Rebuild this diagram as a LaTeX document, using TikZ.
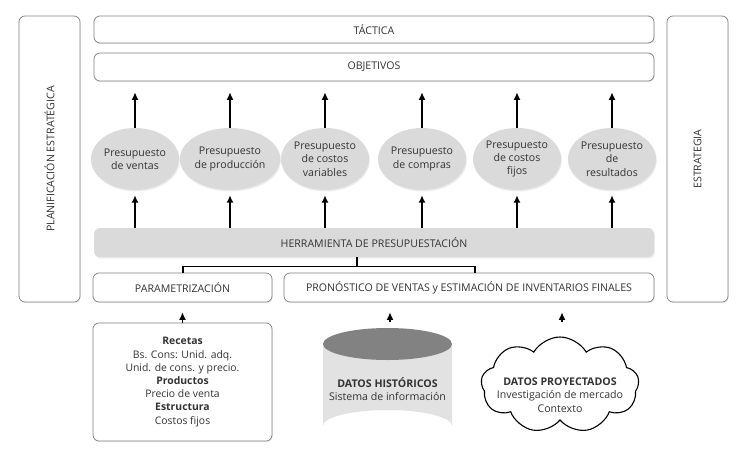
\documentclass[tikz,border=0pt]{standalone}
\usepackage{fontspec}
\setmainfont{Open Sans}
\usetikzlibrary{shapes.symbols,shapes.geometric,arrows.meta,shadows}
\definecolor{txt}{HTML}{333333}
\definecolor{edge}{HTML}{808080}
\definecolor{lgrey}{HTML}{DADADA}
\definecolor{dgrey}{HTML}{828282}
\definecolor{cbody}{HTML}{E2E2E2}
\begin{document}
\begin{tikzpicture}[x=1pt,y=-1pt,
  font=\fontsize{10.6}{13.3}\selectfont, text=txt,
  box/.style={draw=edge, line width=0.7pt, rounded corners=6pt, fill=white, align=center, inner sep=0pt,
     drop shadow={shadow xshift=0.8pt, shadow yshift=-1.2pt, opacity=0.15}},
  budget/.style={ellipse, fill=lgrey, minimum width=88pt, minimum height=62pt, inner sep=0pt, align=center,
     drop shadow={shadow xshift=0.8pt, shadow yshift=-1.5pt, opacity=0.15}},
  arr/.style={-{Latex[length=7.5pt,width=7pt]}, line width=1.4pt, black},
  link/.style={line width=1.4pt, black}]
\useasboundingbox (0,0) rectangle (742,463);
% side boxes
\node[box, minimum width=61pt, minimum height=286pt] (plan) at (49.5,159) {};
\node[rotate=90] at (plan.center) {PLANIFICACIÓN ESTRATÉGICA};
\node[box, minimum width=61pt, minimum height=286pt] (estr) at (697.5,159) {};
\node[rotate=90] at (estr.center) {ESTRATEGIA};
% top boxes
\node[box, minimum width=560pt, minimum height=27pt] (tact) at (374,29.5) {TÁCTICA};
\node[box, minimum width=560pt, minimum height=28pt] (obj) at (374,67) {OBJETIVOS};
% budgets
\node[budget] (e1) at (135,159) {Presupuesto\\de ventas};
\node[budget] (e2) at (230,159) {Presupuesto\\de producción};
\node[budget] (e3) at (325,159) {Presupuesto\\de costos\\variables};
\node[budget] (e4) at (422,159) {Presupuesto\\de compras};
\node[budget] (e5) at (517,159) {Presupuesto\\de costos\\fijos};
\node[budget] (e6) at (612,159) {Presupuesto\\de\\resultados};
% tool bar
\node[fill=lgrey, rounded corners=6pt, minimum width=560pt, minimum height=29pt, inner sep=0pt,
   drop shadow={shadow xshift=0.8pt, shadow yshift=-1.5pt, opacity=0.15}] (herr) at (374,242.5) {HERRAMIENTA DE PRESUPUESTACIÓN};
\foreach \e in {e1,e2,e3,e4,e5,e6}{
  \draw[arr, shorten >=11pt] (\e.north) -- (\e.north |- obj.south);
  \draw[arr, shorten >=5pt] (\e.south |- herr.north) -- (\e.south);
}
% second row
\node[box, minimum width=179pt, minimum height=29pt] (param) at (182.5,287.5) {PARAMETRIZACIÓN};
\node[box, minimum width=370pt, minimum height=29pt] (pron) at (469,287.5) {PRONÓSTICO DE VENTAS y ESTIMACIÓN DE INVENTARIOS FINALES};
\coordinate (bar) at (357,266.5);
\draw[link] (bar |- herr.south) -- (bar);
\draw[link] (param.north -| 183,0) |- (bar) -| (pron.north -| 475,0);
% recetas
\node[box, minimum width=179pt, minimum height=118pt, drop shadow={opacity=0}] (rec) at (182.5,382) {};
\node[align=center, font=\fontsize{10.4}{13.2}\selectfont] (rect) at (rec.center) {\textbf{Recetas}\\Bs. Cons: Unid. adq.\\Unid. de cons. y precio.\\\textbf{Productos}\\Precio de venta\\\textbf{Estructura}\\Costos fijos};
\draw[arr, shorten >=10pt] (rec.north) -- (param.south -| rec.north);
% cylinder
\fill[cbody] (323,344) -- (323,426) arc[start angle=180, end angle=360, x radius=64.5pt, y radius=-16pt] -- (452,344) -- cycle;
\fill[dgrey] (387.5,344) ellipse[x radius=64.5pt, y radius=16pt];
\node[minimum width=129pt, minimum height=114pt, inner sep=0pt] (cyl) at (387.5,385) {};
\node[align=center, inner sep=0pt] (cylt) at (387.5,389) {\textbf{DATOS HISTÓRICOS}\\Sistema de información};
\draw[arr, shorten <=6pt, shorten >=10pt] ([xshift=2.5pt]cyl.north) -- ([xshift=2.5pt]cyl.north |- pron.south);
% cloud
\node[cloud, cloud ignores aspect, draw=black, line width=1.1pt, cloud puffs=9, cloud puff arc=120,
   minimum width=158pt, minimum height=96pt, inner sep=0pt] (cloud) at (560,385) {};
\node[align=center, inner sep=0pt] (cloudt) at (560,395) {\textbf{DATOS PROYECTADOS}\\Investigación de mercado\\Contexto};
\draw[arr, shorten <=10pt, shorten >=10pt] ([xshift=2pt]cloud.north |- 0,332) -- ([xshift=2pt]cloud.north |- pron.south);
\end{tikzpicture}
\end{document}
